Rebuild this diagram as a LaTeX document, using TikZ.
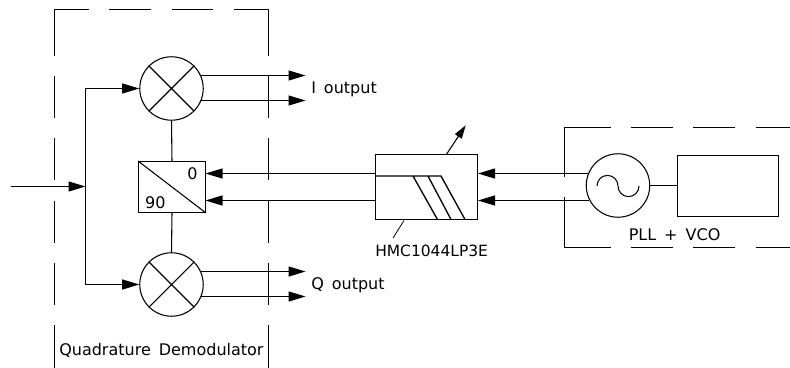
\documentclass[tikz,border=0pt]{standalone}
\usepackage{fontspec}
\setmainfont{DejaVu Sans}
\usetikzlibrary{arrows.meta}
\tikzset{
 wire/.style={line width=0.8pt},
 sig/.style={wire,-{Triangle[length=12.75pt,width=7.5pt]}},
 mixer/.style={draw,circle,line width=0.8pt,minimum size=47.6pt,inner sep=0},
 lab/.style={inner sep=0,font=\fontsize{12pt}{13pt}\selectfont},
 bnd/.style={line width=0.7pt}
}
\begin{document}
\begin{tikzpicture}[x=0.75pt,y=-0.75pt]
\useasboundingbox (0,0) rectangle (790,368);
% boundaries
\draw[bnd] (54.5,56)--(54.5,9.5)--(89,9.5) (109,9.5)--(151,9.5) (172,9.5)--(213,9.5) (234,9.5)--(268.5,9.5)--(268.5,56);
\foreach \a/\b in {76/118,138/180,201/243,263/305,325/368}{
 \draw[bnd] (54.5,\a)--(54.5,\b) (268.5,\a)--(268.5,\b);}
\draw[bnd] (564.5,177)--(564.5,127.5)--(611,127.5) (631,127.5)--(673,127.5) (693,127.5)--(735,127.5) (756,127.5)--(790,127.5);
\draw[bnd] (564.5,197)--(564.5,247.5)--(611,247.5) (631,247.5)--(673,247.5) (693,247.5)--(735,247.5) (756,247.5)--(790,247.5);
% blocks
\node[mixer] (m1) at (171.5,88.5) {};
\node[mixer] (m2) at (171.5,284.5) {};
\foreach \m in {m1,m2}{
 \draw[wire] (\m.45)--(\m.225) (\m.135)--(\m.-45);}
\node[draw,line width=0.8pt,inner sep=0,minimum width=50.25pt,minimum height=38.25pt] (split) at (172,187) {};
\draw[wire] (split.north west)--(split.south east);
\node[lab] (zero) at (192.5,173.5) {0};
\node[lab] (ninety) at (155.3,202.3) {90};
\node[draw,line width=1.1pt,inner sep=0,minimum width=76.5pt,minimum height=48.75pt] (hmc) at (426.5,187) {};
\draw[line width=1pt] (376,176)--(441,176)--(465,219.5) (413,176)--(437.5,219.5) (428,176)--(451,219.5);
\node[mixer] (osc) at (618,185.5) {};
\draw[wire] (597,186) .. controls (597,180.1) and (601.7,175.4) .. (607.5,175.4)
 .. controls (613.3,175.4) and (618,180.1) .. (618,186)
 .. controls (618,191.9) and (622.7,196.6) .. (628.5,196.6)
 .. controls (634.3,196.6) and (639,191.9) .. (639,186);
\node[draw,line width=0.8pt,inner sep=0,minimum width=75.75pt,minimum height=45.75pt] (pll) at (728,186) {};
% coordinates
\coordinate (in) at (11,186.5);
\coordinate (j) at (85.5,186.5);
\coordinate (t1) at (200.5,75.5); \coordinate (t2) at (200.5,100.5);
\coordinate (b1) at (200.5,271.5); \coordinate (b2) at (200.5,296.5);
\coordinate (o1) at (305.5,75.5); \coordinate (o2) at (305.5,100.5);
\coordinate (o3) at (305.5,271.5); \coordinate (o4) at (305.5,296.5);
\coordinate (s0) at (205.5,173.5); \coordinate (s9) at (205.5,200.5);
\coordinate (h0l) at (376,173.5); \coordinate (h9l) at (376,200.5);
\coordinate (h0r) at (478,173.5); \coordinate (h9r) at (478,200.5);
\coordinate (os0) at (588.5,173.5); \coordinate (os9) at (588.5,200.5);
\coordinate (tune) at (465.7,125.3); \coordinate (tunes) at (446.7,154);
\coordinate (lead) at (393,238); \coordinate (leads) at (404,220.5);
% connectors
\draw[sig] (in)--(j);
\draw[sig] (j)|-(m1.west);
\draw[sig] (j)|-(m2.west);
\draw[wire] (m1.south)--(split.north);
\draw[wire] (split.south)--(m2.north);
\draw[sig] (t1)--(o1); \draw[sig] (t2)--(o2);
\draw[sig] (b1)--(o3); \draw[sig] (b2)--(o4);
\draw[sig] (h0l)--(s0); \draw[sig] (h9l)--(s9);
\draw[sig] (os0)--(h0r); \draw[sig] (os9)--(h9r);
\draw[wire] (osc.east)--(osc.east -| pll.west);
\draw[wire,-{Triangle[length=10pt,width=6pt]}] (tunes)--(tune);
\draw[line width=0.6pt] (leads)--(lead);
% labels
\node[lab,anchor=west] (iout) at (311,89.5) {I\hspace{6pt}output};
\node[lab,anchor=west] (qout) at (311,285) {Q\hspace{6pt}output};
\node[lab,anchor=west] (qd) at (59,350.5) {Quadrature\hspace{6pt}Demodulator};
\node[lab,anchor=west,font=\fontsize{11.6pt}{13pt}\selectfont] (part) at (375,251) {HMC1044LP3E};
\node[lab,anchor=west] (pv) at (628.5,235) {PLL\hspace{6pt}+\hspace{6pt}VCO};
\end{tikzpicture}
\end{document}
